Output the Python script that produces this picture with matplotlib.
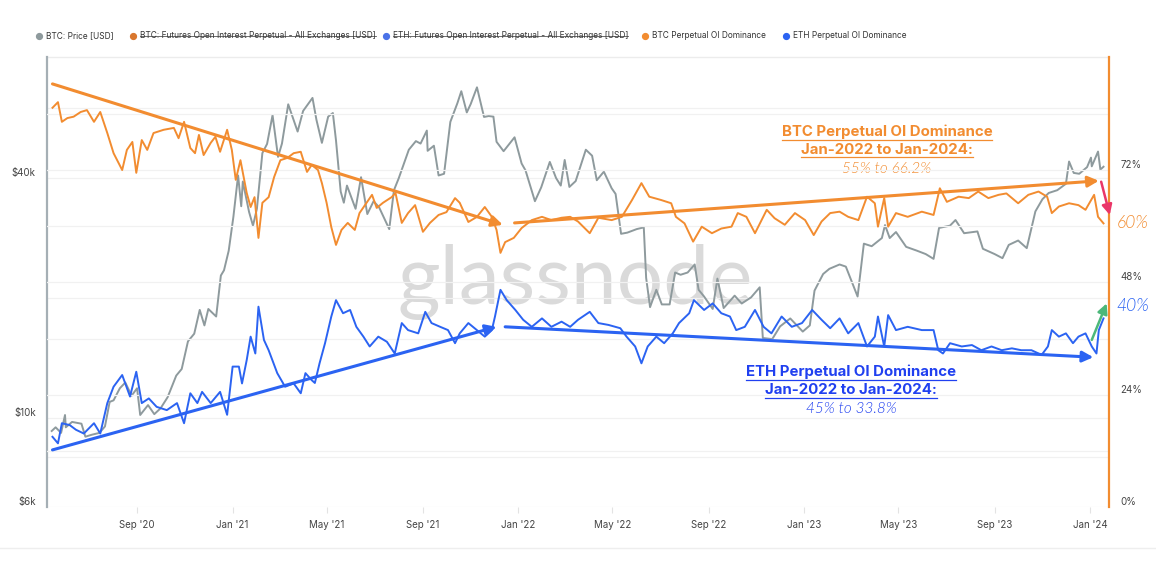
import numpy as np
import pandas as pd
import matplotlib
matplotlib.use("Agg")
import matplotlib.pyplot as plt
import matplotlib.dates as mdates
from matplotlib.lines import Line2D
from matplotlib.transforms import IdentityTransform

plt.rcParams['font.family'] = ['Inter', 'DejaVu Sans']

# ------------------------------------------------------------
# Data
# ------------------------------------------------------------

# BTC price [USD], left log axis
btc_price_dates = [
    "2020-05-15", "2020-05-20", "2020-05-27", "2020-06-01", "2020-06-02", "2020-06-10", "2020-06-22",
    "2020-06-27", "2020-07-05", "2020-07-15", "2020-07-22", "2020-07-28", "2020-08-02", "2020-08-10",
    "2020-08-17", "2020-08-25", "2020-09-01", "2020-09-05", "2020-09-15", "2020-09-23", "2020-10-01",
    "2020-10-10", "2020-10-21", "2020-10-28", "2020-11-05", "2020-11-13", "2020-11-20", "2020-11-26",
    "2020-12-01", "2020-12-11", "2020-12-17", "2020-12-21", "2020-12-27", "2021-01-02", "2021-01-08",
    "2021-01-12", "2021-01-14", "2021-01-22", "2021-01-27", "2021-02-01", "2021-02-08", "2021-02-14",
    "2021-02-21", "2021-02-28", "2021-03-05", "2021-03-13", "2021-03-25", "2021-04-01", "2021-04-13",
    "2021-04-18", "2021-04-25", "2021-05-03", "2021-05-09", "2021-05-13", "2021-05-19", "2021-05-23",
    "2021-05-27", "2021-06-07", "2021-06-14", "2021-06-22", "2021-06-30", "2021-07-07", "2021-07-20",
    "2021-07-26", "2021-08-01", "2021-08-14", "2021-08-23", "2021-08-29", "2021-09-06", "2021-09-07",
    "2021-09-15", "2021-09-21", "2021-09-28", "2021-10-06", "2021-10-15", "2021-10-20", "2021-10-27",
    "2021-11-01", "2021-11-09", "2021-11-18", "2021-11-24", "2021-11-30", "2021-12-04", "2021-12-13",
    "2021-12-27", "2022-01-05", "2022-01-10", "2022-01-22", "2022-01-30", "2022-02-10", "2022-02-18",
    "2022-02-24", "2022-03-01", "2022-03-07", "2022-03-15", "2022-03-28", "2022-04-05", "2022-04-11",
    "2022-04-20", "2022-04-30", "2022-05-05", "2022-05-12", "2022-05-20", "2022-06-01", "2022-06-10",
    "2022-06-13", "2022-06-18", "2022-06-26", "2022-07-03", "2022-07-13", "2022-07-20", "2022-07-27",
    "2022-08-05", "2022-08-14", "2022-08-19", "2022-08-26", "2022-09-06", "2022-09-12", "2022-09-20",
    "2022-10-04", "2022-10-13", "2022-10-25", "2022-11-05", "2022-11-09", "2022-11-21", "2022-12-01",
    "2022-12-14", "2022-12-30", "2023-01-08", "2023-01-14", "2023-01-25", "2023-02-02", "2023-02-15",
    "2023-02-23", "2023-03-10", "2023-03-18", "2023-03-28", "2023-04-10", "2023-04-14", "2023-04-20",
    "2023-04-28", "2023-05-11", "2023-05-25", "2023-06-05", "2023-06-15", "2023-06-22", "2023-07-06",
    "2023-07-13", "2023-07-24", "2023-08-10", "2023-08-17", "2023-09-01", "2023-09-11", "2023-09-19",
    "2023-10-01", "2023-10-12", "2023-10-23", "2023-11-01", "2023-11-09", "2023-11-20", "2023-12-01",
    "2023-12-05", "2023-12-11", "2023-12-18", "2023-12-28", "2024-01-02", "2024-01-03", "2024-01-11",
    "2024-01-14", "2024-01-18",
]
btc_price = [
    9300, 9500, 9200, 10200, 9500, 9800, 9700,
    9000, 9100, 9200, 9550, 11000, 11100, 11900,
    12300, 11400, 11900, 10200, 10800, 10250, 10600,
    11300, 12800, 13300, 15600, 16300, 18700, 17100,
    18800, 18000, 22800, 23500, 26300, 32000, 40600,
    34000, 39200, 32900, 30400, 33500, 46200, 48700,
    57500, 45200, 48800, 61200, 52300, 58900, 63500,
    56000, 49000, 57000, 58200, 49700, 37000, 34700,
    38300, 33500, 40200, 32500, 35000, 33800, 29800,
    37300, 39900, 47100, 49500, 48800, 52600, 46800,
    48200, 40600, 41000, 55300, 61600, 66000, 58400,
    61300, 67500, 56900, 57200, 57000, 49300, 46700,
    50600, 43500, 41800, 35000, 37900, 43900, 40000,
    38300, 44400, 38000, 39300, 47100, 45500, 39500,
    41500, 37700, 36500, 29000, 29200, 29800, 30100,
    22500, 19000, 21000, 19300, 19300, 23200, 22900,
    23200, 24300, 21000, 20200, 18800, 22400, 18900,
    20300, 19400, 20100, 21300, 15900, 15800, 17000,
    17800, 16500, 17100, 20900, 23000, 23700, 24300,
    24000, 20200, 27400, 27000, 28300, 30500, 28300,
    29300, 26900, 26300, 25800, 25100, 30000, 30400,
    31400, 29100, 29400, 26600, 25800, 25200, 27200,
    27900, 26700, 33000, 35400, 36700, 37300, 38700,
    44000, 41200, 41000, 42600, 45000, 42800, 46600,
    42000, 42700,
]

# BTC Perpetual OI Dominance [%], right axis
btc_dom_dates = [
    "2020-05-16", "2020-05-23", "2020-05-28", "2020-06-04", "2020-06-12", "2020-06-21", "2020-06-29",
    "2020-07-08", "2020-07-16", "2020-07-25", "2020-08-02", "2020-08-13", "2020-08-19", "2020-08-26",
    "2020-08-31", "2020-09-07", "2020-09-14", "2020-09-22", "2020-10-05", "2020-10-18", "2020-10-24",
    "2020-10-31", "2020-11-08", "2020-11-14", "2020-11-19", "2020-11-25", "2020-12-04", "2020-12-10",
    "2020-12-16", "2020-12-25", "2020-12-31", "2021-01-05", "2021-01-11", "2021-01-19", "2021-01-24",
    "2021-01-29", "2021-02-03", "2021-02-08", "2021-02-16", "2021-02-23", "2021-03-03", "2021-03-12",
    "2021-03-20", "2021-03-29", "2021-04-06", "2021-04-12", "2021-04-20", "2021-04-25", "2021-05-01",
    "2021-05-07", "2021-05-13", "2021-05-20", "2021-05-28", "2021-06-06", "2021-06-12", "2021-06-21",
    "2021-06-28", "2021-07-04", "2021-07-12", "2021-07-23", "2021-07-28", "2021-08-05", "2021-08-13",
    "2021-08-22", "2021-09-01", "2021-09-10", "2021-09-21", "2021-10-01", "2021-10-12", "2021-10-18",
    "2021-10-29", "2021-11-09", "2021-11-19", "2021-11-28", "2021-12-04", "2021-12-09", "2021-12-15",
    "2021-12-26", "2022-01-05", "2022-01-18", "2022-01-31", "2022-02-12", "2022-02-25", "2022-03-08",
    "2022-03-18", "2022-04-02", "2022-04-13", "2022-04-30", "2022-05-13", "2022-05-26", "2022-06-07",
    "2022-06-17", "2022-07-02", "2022-07-15", "2022-07-21", "2022-08-01", "2022-08-12", "2022-08-23",
    "2022-09-05", "2022-09-17", "2022-09-30", "2022-10-08", "2022-10-19", "2022-10-30", "2022-11-14",
    "2022-11-24", "2022-12-07", "2022-12-20", "2023-01-02", "2023-01-13", "2023-01-23", "2023-02-03",
    "2023-02-15", "2023-02-26", "2023-03-11", "2023-03-22", "2023-04-01", "2023-04-05", "2023-04-13",
    "2023-04-18", "2023-04-28", "2023-05-13", "2023-05-31", "2023-06-15", "2023-06-23", "2023-07-02",
    "2023-07-17", "2023-07-30", "2023-08-11", "2023-08-24", "2023-09-06", "2023-09-16", "2023-10-01",
    "2023-10-14", "2023-10-27", "2023-11-07", "2023-11-13", "2023-11-22", "2023-12-05", "2023-12-17",
    "2023-12-26", "2024-01-06", "2024-01-11", "2024-01-18",
]
btc_dom = [
    85.3, 86.5, 82.3, 83.1, 83.4, 84.4, 84.8,
    82.3, 84.4, 79.9, 75.6, 72.0, 76.3, 78.0,
    71.4, 78.4, 76.3, 79.9, 80.6, 81.0, 78.8,
    82.3, 76.7, 75.6, 79.5, 75.2, 77.8, 79.1,
    75.9, 80.6, 76.3, 69.9, 74.1, 67.1, 64.1,
    66.2, 57.5, 65.0, 66.2, 70.5, 74.1, 74.6,
    75.6, 75.9, 71.6, 73.1, 72.0, 69.2, 65.0,
    59.8, 56.0, 59.2, 60.7, 59.2, 62.8, 65.0,
    66.7, 63.9, 65.0, 66.2, 67.1, 60.7, 62.8,
    64.5, 58.8, 60.7, 62.4, 63.0, 66.0, 65.0,
    60.9, 62.0, 64.1, 62.0, 59.2, 54.3, 56.6,
    57.5, 59.6, 61.3, 62.0, 61.3, 61.8, 62.0,
    61.0, 58.5, 61.8, 61.3, 62.0, 65.6, 69.2,
    66.3, 65.6, 64.9, 62.0, 60.6, 56.7, 59.9,
    58.5, 59.5, 59.9, 62.8, 62.0, 58.5, 63.5,
    61.7, 60.3, 62.8, 61.3, 58.1, 61.0, 62.8,
    63.1, 62.0, 61.3, 66.3, 64.9, 59.9, 66.0,
    59.9, 62.8, 62.0, 63.1, 62.4, 68.1, 65.2,
    66.3, 66.0, 67.4, 66.0, 66.7, 67.0, 64.9,
    66.7, 67.4, 66.3, 62.8, 64.2, 64.9, 64.5,
    63.5, 66.7, 62.0, 60.6,
]

# ETH Perpetual OI Dominance [%], right axis
eth_dom_dates = [
    "2020-05-16", "2020-05-23", "2020-05-28", "2020-06-07", "2020-06-15", "2020-06-25", "2020-07-08",
    "2020-07-16", "2020-07-25", "2020-08-02", "2020-08-13", "2020-08-23", "2020-08-31", "2020-09-07",
    "2020-09-16", "2020-09-26", "2020-10-09", "2020-10-22", "2020-10-31", "2020-11-08", "2020-11-17",
    "2020-11-23", "2020-12-04", "2020-12-16", "2020-12-25", "2021-01-01", "2021-01-09", "2021-01-13",
    "2021-01-19", "2021-01-24", "2021-01-30", "2021-02-03", "2021-02-10", "2021-02-16", "2021-02-27",
    "2021-03-09", "2021-03-20", "2021-03-29", "2021-04-04", "2021-04-12", "2021-04-16", "2021-04-22",
    "2021-04-29", "2021-05-07", "2021-05-13", "2021-05-22", "2021-05-31", "2021-06-08", "2021-06-17",
    "2021-06-25", "2021-07-06", "2021-07-17", "2021-07-27", "2021-08-05", "2021-08-13", "2021-08-26",
    "2021-09-04", "2021-09-12", "2021-09-23", "2021-10-03", "2021-10-12", "2021-10-18", "2021-10-29",
    "2021-11-06", "2021-11-19", "2021-11-28", "2021-12-02", "2021-12-09", "2021-12-17", "2021-12-28",
    "2022-01-07", "2022-01-18", "2022-01-31", "2022-02-12", "2022-02-25", "2022-03-08", "2022-03-18",
    "2022-04-02", "2022-04-13", "2022-04-26", "2022-05-11", "2022-05-19", "2022-05-30", "2022-06-07",
    "2022-06-15", "2022-06-26", "2022-07-06", "2022-07-17", "2022-07-25", "2022-08-07", "2022-08-13",
    "2022-08-26", "2022-09-06", "2022-09-17", "2022-09-28", "2022-10-06", "2022-10-17", "2022-10-30",
    "2022-11-10", "2022-11-20", "2022-12-03", "2022-12-16", "2022-12-29", "2023-01-11", "2023-01-23",
    "2023-02-03", "2023-02-15", "2023-02-26", "2023-03-11", "2023-03-22", "2023-04-01", "2023-04-05",
    "2023-04-13", "2023-04-18", "2023-04-28", "2023-05-13", "2023-05-31", "2023-06-15", "2023-06-21",
    "2023-06-27", "2023-07-06", "2023-07-21", "2023-08-03", "2023-08-15", "2023-08-28", "2023-09-10",
    "2023-09-23", "2023-10-05", "2023-10-18", "2023-10-31", "2023-11-08", "2023-11-13", "2023-11-22",
    "2023-12-01", "2023-12-10", "2023-12-17", "2023-12-26", "2024-01-03", "2024-01-09", "2024-01-12",
    "2024-01-18",
]
eth_dom = [
    15.0, 13.6, 17.9, 17.5, 16.5, 15.7, 17.9,
    15.7, 22.2, 25.7, 28.2, 23.6, 28.9, 22.2,
    23.2, 21.4, 20.7, 22.2, 17.9, 24.3, 22.2,
    24.6, 22.2, 24.6, 19.7, 30.0, 30.0, 26.4,
    31.4, 36.4, 32.8, 42.8, 35.7, 33.5, 28.6,
    25.7, 26.4, 24.3, 28.6, 27.1, 26.5, 30.7,
    35.0, 40.7, 44.2, 41.4, 42.1, 38.5, 36.4,
    34.3, 36.4, 35.3, 32.8, 39.3, 37.8, 37.1,
    41.7, 39.3, 38.5, 37.8, 35.0, 37.1, 39.3,
    38.2, 36.4, 37.8, 40.7, 46.4, 44.2, 42.1,
    40.0, 38.5, 40.3, 38.5, 39.6, 38.5, 40.0,
    41.7, 39.3, 38.9, 38.2, 36.4, 34.3, 30.7,
    34.3, 36.4, 35.0, 37.1, 39.3, 41.4, 44.2,
    42.1, 43.5, 41.4, 40.7, 37.8, 38.5, 42.1,
    38.5, 37.1, 40.7, 38.5, 39.3, 42.1, 40.0,
    38.2, 40.3, 37.1, 39.3, 34.3, 36.4, 40.7,
    34.3, 41.0, 37.8, 38.5, 37.8, 37.8, 33.5,
    32.8, 35.0, 34.3, 34.6, 33.5, 34.3, 33.5,
    33.9, 33.5, 33.5, 32.5, 34.3, 37.8, 36.4,
    37.1, 35.0, 36.4, 37.1, 34.3, 32.8, 37.8,
    40.3,
]

# trend arrows drawn on the chart: (start date, start %, end date, end %)
btc_trend_1 = ("2020-05-16", 90.4, "2021-12-12", 60.3)
btc_trend_2 = ("2021-12-27", 60.7, "2024-01-12", 69.7)
eth_trend_1 = ("2020-05-16", 12.2, "2021-12-04", 38.5)
eth_trend_2 = ("2021-12-15", 38.5, "2024-01-05", 32.0)
btc_drop = ("2024-01-15", 69.5, "2024-01-26", 62.4)
eth_jump = ("2024-01-03", 35.7, "2024-01-22", 43.5)

left_ticks = [6000, 10000, 40000]
left_labels = ["$6k", "$10k", "$40k"]
left_grid = [6000, 8000, 10000, 20000, 40000, 60000]
right_ticks = [0, 24, 48, 72]
right_labels = ["0%", "24%", "48%", "72%"]
right_grid = [12, 24, 36, 48, 60, 72, 84]

legend_items = [
    ("BTC: Price [USD]", "#8e9a9d", False),
    ("BTC: Futures Open Interest Perpetual - All Exchanges [USD]", "#d9772e", True),
    ("ETH: Futures Open Interest Perpetual - All Exchanges [USD]", "#4a72e8", True),
    ("BTC Perpetual OI Dominance", "#f28c30", False),
    ("ETH Perpetual OI Dominance", "#2b63f2", False),
]

# ------------------------------------------------------------
# Figure
# ------------------------------------------------------------

GRAY = "#8e9a9d"
ORANGE = "#f28c30"
BLUE = "#2b63f2"
TEXT_BLUE = "#2040f0"
ITALIC_FONT = ["Lato", "DejaVu Sans"]

W, H = 1156, 568
fig = plt.figure(figsize=(W / 100, H / 100), dpi=100)
ax = fig.add_axes([47 / W, 61 / H, 1062 / W, 450 / H])
ax2 = ax.twinx()

xmin = pd.Timestamp("2020-05-09")
xmax = pd.Timestamp("2024-01-25")

# watermark
ax.text(0.497, 0.50, "glassnode", transform=ax.transAxes, ha="center", va="center",
        fontsize=59, color="#dadada", family=["Lato", "DejaVu Sans"], zorder=0)

for v in left_grid:
    ax.axhline(v, color="#f1f1f1", lw=0.9, zorder=0)
for v in right_grid:
    ax2.axhline(v, color="#f1f1f1", lw=0.9, zorder=0)

ax.plot(pd.to_datetime(btc_price_dates), btc_price, color=GRAY, lw=1.4, zorder=2)
ax.set_yscale("log")
ax.set_ylim(6000, 80400)
ax.set_xlim(xmin, xmax)

ax2.plot(pd.to_datetime(btc_dom_dates), btc_dom, color=ORANGE, lw=1.4, zorder=2)
ax2.plot(pd.to_datetime(eth_dom_dates), eth_dom, color=BLUE, lw=1.4, zorder=2)
ax2.set_ylim(0, 96.15)
ax2.set_xlim(xmin, xmax)


def trend_arrow(tr, color, lw=2.2, ms=16):
    d0, v0, d1, v1 = tr
    ax2.annotate("", xy=(mdates.date2num(pd.Timestamp(d1)), v1),
                 xytext=(mdates.date2num(pd.Timestamp(d0)), v0),
                 arrowprops=dict(arrowstyle="-|>", color=color, lw=lw, mutation_scale=ms,
                                 shrinkA=0, shrinkB=0),
                 annotation_clip=False, zorder=4)


trend_arrow(btc_trend_1, ORANGE)
trend_arrow(btc_trend_2, ORANGE)
trend_arrow(eth_trend_1, BLUE)
trend_arrow(eth_trend_2, BLUE)
trend_arrow(btc_drop, "#ea3668", lw=1.8, ms=15)
trend_arrow(eth_jump, "#4cb87a", lw=1.8, ms=15)

# axes styling
for s in ["top", "right", "bottom"]:
    ax.spines[s].set_visible(False)
for s in ["top", "left", "bottom"]:
    ax2.spines[s].set_visible(False)
ax.spines["left"].set_color("#a5afb5")
ax.spines["left"].set_linewidth(1.6)
ax2.spines["right"].set_color(ORANGE)
ax2.spines["right"].set_linewidth(1.6)
ax.axhline(80400, color="#ececec", lw=1.0, zorder=0, clip_on=False)

ax.xaxis.set_major_locator(mdates.MonthLocator(bymonth=[1, 5, 9]))
ax.xaxis.set_major_formatter(mdates.DateFormatter("%b '%y"))
ax.tick_params(axis="x", length=4, color="#e3e3e3", labelsize=7, labelcolor="#444444", pad=5)

ax.yaxis.set_minor_locator(plt.NullLocator())
ax.set_yticks(left_ticks)
ax.set_yticklabels(left_labels)
ax.tick_params(axis="y", length=0, labelsize=7, labelcolor="#444444", pad=8)
for t in ax.get_yticklabels():
    t.set_va("bottom")

ax2.set_yticks(right_ticks)
ax2.set_yticklabels(right_labels)
ax2.tick_params(axis="y", length=0, labelsize=7, labelcolor="#444444", pad=8)
for t in ax2.get_yticklabels():
    t.set_va("bottom")


def ax_frac(px, py):
    return (px - 47) / 1062, (507 - py) / 450


# annotation texts
ann = []
x, y = ax_frac(887, 132)
ann.append(ax.text(x, y, "BTC Perpetual OI Dominance", transform=ax.transAxes, ha="center", va="center",
                   fontsize=10.8, fontweight="bold", color=ORANGE))
x, y = ax_frac(887, 150)
ann.append(ax.text(x, y, "Jan-2022 to Jan-2024:", transform=ax.transAxes, ha="center", va="center",
                   fontsize=10.8, fontweight="bold", color=ORANGE))
x, y = ax_frac(887, 169)
ax.text(x, y, "55% to 66.2%", transform=ax.transAxes, ha="center", va="center",
        fontsize=11, fontstyle="italic", fontweight=300, color=ORANGE, family=ITALIC_FONT)

x, y = ax_frac(851, 372)
ann.append(ax.text(x, y, "ETH Perpetual OI Dominance", transform=ax.transAxes, ha="center", va="center",
                   fontsize=10.8, fontweight="bold", color=TEXT_BLUE))
x, y = ax_frac(851, 390)
ann.append(ax.text(x, y, "Jan-2022 to Jan-2024:", transform=ax.transAxes, ha="center", va="center",
                   fontsize=10.8, fontweight="bold", color=TEXT_BLUE))
x, y = ax_frac(851, 409)
ax.text(x, y, "45% to 33.8%", transform=ax.transAxes, ha="center", va="center",
        fontsize=11, fontstyle="italic", fontweight=300, color=TEXT_BLUE, family=ITALIC_FONT)

x, y = ax_frac(1117, 223)
ax.text(x, y, "60%", transform=ax.transAxes, ha="left", va="center", fontsize=12.5,
        fontstyle="italic", fontweight=300, color=ORANGE, family=ITALIC_FONT)
x, y = ax_frac(1116, 306)
ax.text(x, y, "40%", transform=ax.transAxes, ha="left", va="center", fontsize=12.5,
        fontstyle="italic", fontweight=300, color=BLUE, family=ITALIC_FONT)

# legend row
leg_x = [39, 133, 386, 645, 786]
leg_texts = []
for (label, col, struck), px in zip(legend_items, leg_x):
    fig.add_artist(Line2D([px / W], [1 - 36 / H], marker="o", ms=4.2, color=col, lw=0))
    leg_texts.append((fig.text((px + 7) / W, 1 - 36 / H, label, ha="left", va="center",
                               fontsize=6, color="#333333"), col, struck))

# separator at the bottom
fig.add_artist(Line2D([0.0, 1.0], [1 - 548 / H] * 2, color="#eeeeee", lw=1.0))

# underline / strikethrough need text extents
fig.canvas.draw()
r = fig.canvas.get_renderer()
for t in ann:
    bb = t.get_window_extent(renderer=r)
    fig.add_artist(Line2D([bb.x0, bb.x1], [bb.y0 - 0.5, bb.y0 - 0.5], transform=IdentityTransform(),
                          color=t.get_color(), lw=0.9))
for t, col, struck in leg_texts:
    if struck:
        bb = t.get_window_extent(renderer=r)
        ym = bb.y0 + 0.48 * bb.height
        fig.add_artist(Line2D([bb.x0, bb.x1], [ym, ym], transform=IdentityTransform(),
                              color="#555555", lw=0.6))

fig.savefig("out.png", dpi=100)
